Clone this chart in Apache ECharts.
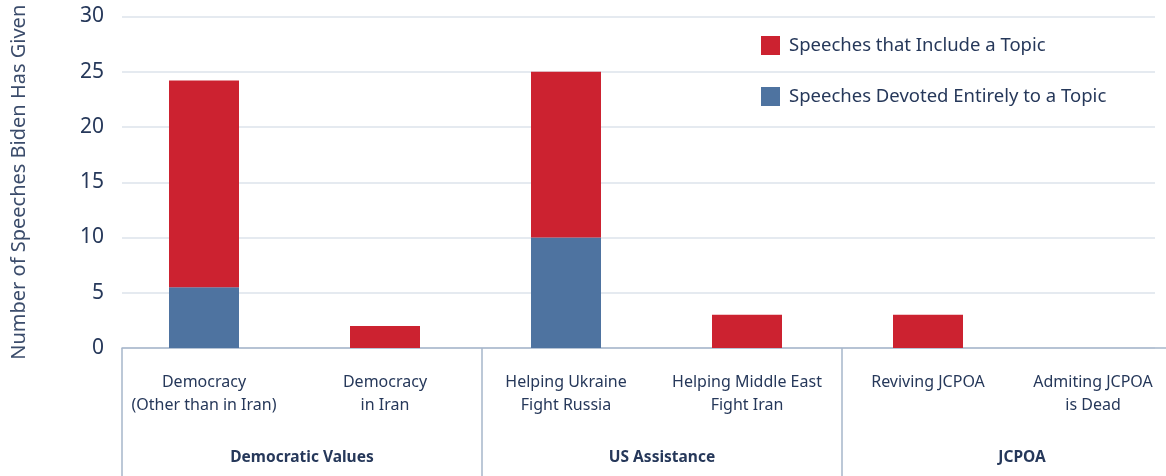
<!DOCTYPE html>
<html><head><meta charset="utf-8">
<script src="https://cdn.jsdelivr.net/npm/echarts@6/dist/echarts.min.js"></script>
<style>html,body{margin:0;padding:0;background:#fff}#c{width:1166px;height:476px}</style>
</head><body><div id="c"></div>
<script>
var topics = ['Democracy\n(Other than in Iran)', 'Democracy\nin Iran', 'Helping Ukraine\nFight Russia', 'Helping Middle East\nFight Iran', 'Reviving JCPOA', 'Admiting JCPOA\nis Dead'];
var groups = ['Democratic Values', 'US Assistance', 'JCPOA'];
var devoted = [5.5, 0, 10, 0, 0, 0];
var includeExtra = [18.7, 2, 15, 3, 3, 0];
var yTicks = [0, 30, 5];

var FONT = 'Noto Sans';
var NAVY = '#26385a';
var LINE = '#a7b6ca';
var topicItems = topics.map(function (t, i) {
  return i === topics.length - 1 ? {value: t, textStyle: {padding: [0, 32, 0, 0]}} : t;
});
var chart = echarts.init(document.getElementById('c'), null, {renderer: 'canvas'});
chart.setOption({
  animation: false,
  textStyle: {fontFamily: FONT},
  legend: {
    data: ['Speeches that Include a Topic', 'Speeches Devoted Entirely to a Topic'],
    orient: 'vertical', left: 756, top: 31,
    itemWidth: 19, itemHeight: 19, itemGap: 32,
    icon: 'rect',
    textStyle: {fontFamily: FONT, fontSize: 18.5, color: NAVY, padding: [0, 0, 0, 4]}
  },
  grid: [
    {left: 113.5, width: 1086, top: 16.5, bottom: 128, containLabel: false, outerBoundsMode: 'none'},
    {left: 122, right: 11, top: 16.5, bottom: 128, containLabel: false, outerBoundsMode: 'none'},
    {left: 122, width: 1080, top: 16.5, bottom: 128, containLabel: false, outerBoundsMode: 'none'}
  ],
  xAxis: [
    {type: 'category', gridIndex: 0, data: topicItems,
     axisLine: {show: false}, axisTick: {show: false},
     axisLabel: {interval: 0, margin: 23, fontFamily: FONT, fontSize: 16, lineHeight: 23, color: NAVY}},
    {type: 'category', gridIndex: 1, data: topics, show: false},
    {type: 'category', gridIndex: 2, data: groups,
     axisLine: {show: true, lineStyle: {color: LINE, width: 1.5}},
     axisTick: {show: true, interval: 0, length: 130, lineStyle: {color: LINE, width: 1.5}},
     axisLabel: {interval: 0, margin: 102, fontFamily: FONT, fontSize: 15.5, fontWeight: 'bold', color: NAVY}}
  ],
  yAxis: [
    {type: 'value', gridIndex: 0, min: yTicks[0], max: yTicks[1], interval: yTicks[2], show: false, splitLine: {show: false}},
    {type: 'value', gridIndex: 1, min: yTicks[0], max: yTicks[1], interval: yTicks[2],
     name: 'Number of Speeches Biden Has Given', nameLocation: 'middle', nameGap: 93,
     nameTextStyle: {fontFamily: FONT, fontSize: 20, color: '#3b4c6b'},
     axisLine: {show: false}, axisTick: {show: false},
     axisLabel: {margin: 18, fontFamily: FONT, fontSize: 21, color: NAVY},
     splitLine: {lineStyle: {color: '#dde3eb', width: 1.5}}},
    {type: 'value', gridIndex: 2, min: yTicks[0], max: yTicks[1], interval: yTicks[2], show: false, splitLine: {show: false}}
  ],
  series: [
    {name: 'Speeches Devoted Entirely to a Topic', type: 'bar', stack: 's', xAxisIndex: 0, yAxisIndex: 0,
     data: devoted, barWidth: 70, itemStyle: {color: '#4e73a0'}},
    {name: 'Speeches that Include a Topic', type: 'bar', stack: 's', xAxisIndex: 0, yAxisIndex: 0,
     data: includeExtra, barWidth: 70, itemStyle: {color: '#cc2230'}}
  ]
});
</script></body></html>
